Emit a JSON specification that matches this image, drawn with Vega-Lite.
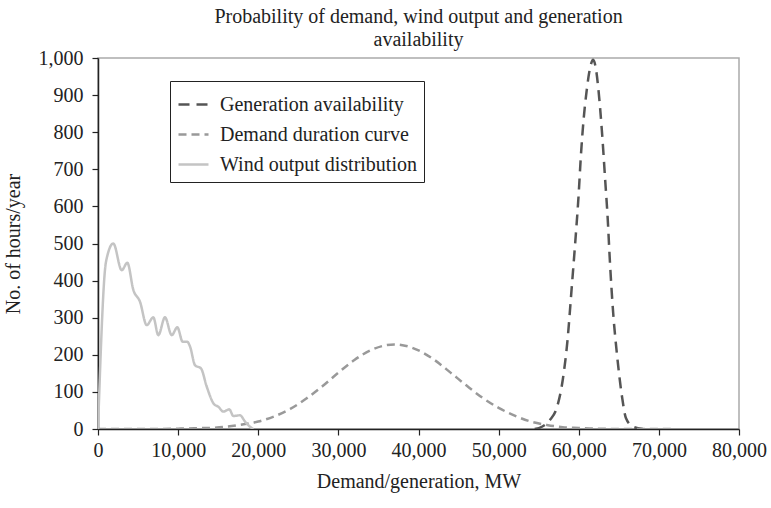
{
  "$schema": "https://vega.github.io/schema/vega-lite/v6.json",
  "width": 641,
  "height": 371,
  "autosize": {"type": "none"},
  "padding": {"left": 98, "top": 58, "right": 32, "bottom": 79},
  "background": "white",
  "title": {
    "text": ["Probability of demand, wind output and generation", "availability"],
    "font": "Liberation Serif",
    "fontSize": 20,
    "fontWeight": "normal",
    "color": "#222222",
    "anchor": "middle",
    "offset": -2,
    "lineHeight": 23
  },
  "config": {
    "view": {"stroke": "#aaaaaa", "strokeWidth": 1.5},
    "axis": {
      "domainColor": "#222222",
      "domainWidth": 1.5,
      "tickColor": "#222222",
      "tickWidth": 1.2,
      "tickSize": 6,
      "grid": false,
      "labelFont": "Liberation Serif",
      "labelFontSize": 20,
      "labelColor": "#222222",
      "titleFont": "Liberation Serif",
      "titleFontSize": 20,
      "titleFontWeight": "normal",
      "titleColor": "#222222"
    },
    "legend": {
      "labelFont": "Liberation Serif",
      "labelFontSize": 20,
      "labelColor": "#222222",
      "labelLimit": 0
    }
  },
  "data": {
    "values": [
      {"series": "Generation availability", "x": 54500, "y": 0},
      {"series": "Generation availability", "x": 55400, "y": 6},
      {"series": "Generation availability", "x": 56400, "y": 24},
      {"series": "Generation availability", "x": 57300, "y": 60},
      {"series": "Generation availability", "x": 58000, "y": 132},
      {"series": "Generation availability", "x": 58600, "y": 240},
      {"series": "Generation availability", "x": 59100, "y": 375},
      {"series": "Generation availability", "x": 59550, "y": 500},
      {"series": "Generation availability", "x": 59970, "y": 626},
      {"series": "Generation availability", "x": 60260, "y": 734},
      {"series": "Generation availability", "x": 60600, "y": 833},
      {"series": "Generation availability", "x": 61000, "y": 914},
      {"series": "Generation availability", "x": 61400, "y": 972},
      {"series": "Generation availability", "x": 61800, "y": 995},
      {"series": "Generation availability", "x": 62150, "y": 970},
      {"series": "Generation availability", "x": 62460, "y": 914},
      {"series": "Generation availability", "x": 62880, "y": 806},
      {"series": "Generation availability", "x": 63300, "y": 671},
      {"series": "Generation availability", "x": 63600, "y": 572},
      {"series": "Generation availability", "x": 63900, "y": 447},
      {"series": "Generation availability", "x": 64300, "y": 312},
      {"series": "Generation availability", "x": 64800, "y": 195},
      {"series": "Generation availability", "x": 65400, "y": 87},
      {"series": "Generation availability", "x": 65900, "y": 29},
      {"series": "Generation availability", "x": 66800, "y": 6},
      {"series": "Generation availability", "x": 68000, "y": 0},

      {"series": "Demand duration curve", "x": 0, "y": 0},
      {"series": "Demand duration curve", "x": 6000, "y": 0},
      {"series": "Demand duration curve", "x": 10000, "y": 1},
      {"series": "Demand duration curve", "x": 12000, "y": 2},
      {"series": "Demand duration curve", "x": 14000, "y": 3},
      {"series": "Demand duration curve", "x": 16000, "y": 6},
      {"series": "Demand duration curve", "x": 18000, "y": 12},
      {"series": "Demand duration curve", "x": 20000, "y": 20},
      {"series": "Demand duration curve", "x": 22000, "y": 34},
      {"series": "Demand duration curve", "x": 24000, "y": 54},
      {"series": "Demand duration curve", "x": 26000, "y": 82},
      {"series": "Demand duration curve", "x": 28000, "y": 115},
      {"series": "Demand duration curve", "x": 30000, "y": 152},
      {"series": "Demand duration curve", "x": 32000, "y": 186},
      {"series": "Demand duration curve", "x": 34000, "y": 212},
      {"series": "Demand duration curve", "x": 36000, "y": 226},
      {"series": "Demand duration curve", "x": 37000, "y": 228},
      {"series": "Demand duration curve", "x": 38000, "y": 226},
      {"series": "Demand duration curve", "x": 40000, "y": 212},
      {"series": "Demand duration curve", "x": 42000, "y": 186},
      {"series": "Demand duration curve", "x": 44000, "y": 152},
      {"series": "Demand duration curve", "x": 46000, "y": 117},
      {"series": "Demand duration curve", "x": 48000, "y": 84},
      {"series": "Demand duration curve", "x": 50000, "y": 57},
      {"series": "Demand duration curve", "x": 52000, "y": 36},
      {"series": "Demand duration curve", "x": 54000, "y": 20},
      {"series": "Demand duration curve", "x": 56000, "y": 11},
      {"series": "Demand duration curve", "x": 58000, "y": 5},
      {"series": "Demand duration curve", "x": 60000, "y": 3},
      {"series": "Demand duration curve", "x": 62000, "y": 1},
      {"series": "Demand duration curve", "x": 66000, "y": 0},
      {"series": "Demand duration curve", "x": 72000, "y": 0},

      {"series": "Wind output distribution", "x": 0, "y": 0},
      {"series": "Wind output distribution", "x": 1000, "y": 451},
      {"series": "Wind output distribution", "x": 1910, "y": 500},
      {"series": "Wind output distribution", "x": 2960, "y": 428},
      {"series": "Wind output distribution", "x": 3660, "y": 448},
      {"series": "Wind output distribution", "x": 4410, "y": 375},
      {"series": "Wind output distribution", "x": 5240, "y": 343},
      {"series": "Wind output distribution", "x": 6080, "y": 280},
      {"series": "Wind output distribution", "x": 6900, "y": 301},
      {"series": "Wind output distribution", "x": 7530, "y": 253},
      {"series": "Wind output distribution", "x": 8360, "y": 301},
      {"series": "Wind output distribution", "x": 9200, "y": 253},
      {"series": "Wind output distribution", "x": 9900, "y": 274},
      {"series": "Wind output distribution", "x": 10570, "y": 235},
      {"series": "Wind output distribution", "x": 11150, "y": 235},
      {"series": "Wind output distribution", "x": 11490, "y": 222},
      {"series": "Wind output distribution", "x": 12110, "y": 172},
      {"series": "Wind output distribution", "x": 12860, "y": 163},
      {"series": "Wind output distribution", "x": 13570, "y": 114},
      {"series": "Wind output distribution", "x": 14480, "y": 67},
      {"series": "Wind output distribution", "x": 15020, "y": 60},
      {"series": "Wind output distribution", "x": 15640, "y": 47},
      {"series": "Wind output distribution", "x": 16390, "y": 53},
      {"series": "Wind output distribution", "x": 16890, "y": 35},
      {"series": "Wind output distribution", "x": 17730, "y": 37},
      {"series": "Wind output distribution", "x": 18350, "y": 20},
      {"series": "Wind output distribution", "x": 18980, "y": 6},
      {"series": "Wind output distribution", "x": 19390, "y": 0}
    ]
  },
  "mark": {"type": "line", "interpolate": "monotone", "strokeWidth": 2.5, "clip": true},
  "encoding": {
    "x": {
      "field": "x",
      "type": "quantitative",
      "scale": {"domain": [0, 80000], "nice": false},
      "axis": {"values": [0, 10000, 20000, 30000, 40000, 50000, 60000, 70000, 80000], "format": ",d", "labelPadding": 5, "titlePadding": 11, "title": "Demand/generation, MW", "labelFlush": false}
    },
    "y": {
      "field": "y",
      "type": "quantitative",
      "scale": {"domain": [0, 1000], "nice": false},
      "axis": {"values": [0, 100, 200, 300, 400, 500, 600, 700, 800, 900, 1000], "format": ",d", "labelPadding": 9, "titlePadding": 15, "title": "No. of hours/year", "labelFlush": false}
    },
    "color": {
      "field": "series",
      "type": "nominal",
      "sort": null,
      "scale": {
        "domain": ["Generation availability", "Demand duration curve", "Wind output distribution"],
        "range": ["#555555", "#999999", "#c4c4c4"]
      },
      "legend": {
        "title": null,
        "orient": "none",
        "legendX": 72,
        "legendY": 23,
        "symbolType": "stroke",
        "symbolSize": 900,
        "symbolStrokeWidth": 2.5,
        "labelOffset": 10,
        "labelLimit": 0,
        "rowPadding": 3,
        "padding": 7,
        "strokeColor": "#222222",
        "fillColor": "white"
      }
    },
    "strokeDash": {
      "field": "series",
      "type": "nominal",
      "sort": null,
      "scale": {
        "domain": ["Generation availability", "Demand duration curve", "Wind output distribution"],
        "range": [[11, 7], [8, 5], [1, 0]]
      },
      "legend": {
        "title": null,
        "orient": "none",
        "legendX": 72,
        "legendY": 23,
        "symbolType": "stroke",
        "symbolSize": 900,
        "symbolStrokeWidth": 2.5,
        "labelOffset": 10,
        "labelLimit": 0,
        "rowPadding": 3,
        "padding": 7,
        "strokeColor": "#222222",
        "fillColor": "white"
      }
    }
  }
}
